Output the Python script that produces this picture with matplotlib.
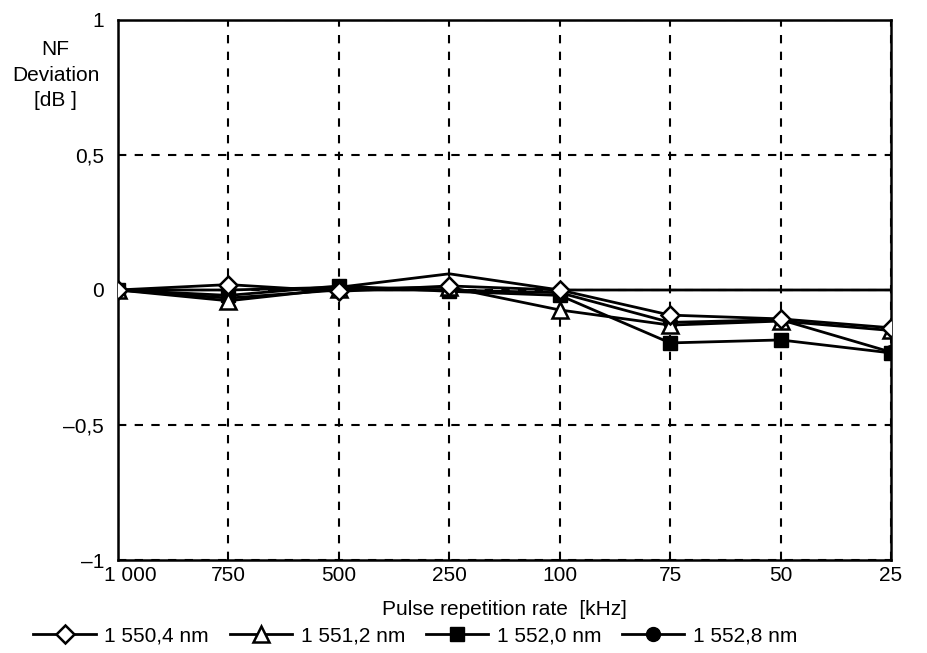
import numpy as np
import matplotlib.pyplot as plt
import matplotlib.transforms as mtransforms

plt.rcParams['font.family'] = ['Liberation Sans', 'DejaVu Sans']

rates = ["1 000", "750", "500", "250", "100", "75", "50", "25"]

nf_1550_4 = [0.0, 0.02, -0.005, 0.015, 0.0, -0.093, -0.107, -0.14]
nf_1551_2 = [0.0, -0.04, 0.005, 0.01, -0.074, -0.13, -0.115, -0.15]
nf_1552_0 = [0.0, -0.02, 0.015, -0.005, -0.02, -0.196, -0.185, -0.233]
nf_1552_8 = [0.0, -0.03, 0.0, 0.0, -0.01, -0.12, -0.11, -0.23]
nf_ref = [0.0, 0.0, 0.01, 0.06, 0.0, 0.0, 0.0, 0.0]

y_ticks = [1, 0.5, 0, -0.5, -1]
y_labels = ["1", "0,5", "0", "\u20130,5", "\u20131"]

x = np.arange(len(rates))
fs = 15

fig = plt.figure(figsize=(9.27, 6.53), dpi=100)
ax = fig.add_axes([0.1273, 0.1424, 0.8339, 0.8270])

ax.plot(x, nf_ref, color="black", lw=2.0, zorder=2)
ax.plot(x, nf_1552_8, color="black", lw=2.0, marker="o", ms=10,
        mfc="black", mec="black", label="1 552,8 nm", zorder=3)
ax.plot(x, nf_1552_0, color="black", lw=2.0, marker="s", ms=10,
        mfc="black", mec="black", label="1 552,0 nm", zorder=3)
ax.plot(x, nf_1551_2, color="black", lw=2.0, marker="^", ms=11,
        mfc="white", mec="black", mew=1.8, label="1 551,2 nm", zorder=4)
ax.plot(x, nf_1550_4, color="black", lw=2.0, marker="D", ms=9,
        mfc="white", mec="black", mew=1.8, label="1 550,4 nm", zorder=5)

ax.set_xlim(0, len(rates) - 1)
ax.set_ylim(-1, 1)
ax.set_xticks(x)
ax.set_xticklabels(rates, fontsize=fs)
ax.set_yticks(y_ticks)
ax.set_yticklabels(y_labels, fontsize=fs)
ax.tick_params(length=0, pad=10)
ax.tick_params(axis="x", pad=4)

# first label sits a little right of its tick, clear of the "-1"
first = ax.get_xticklabels()[0]
first.set_transform(first.get_transform() +
                    mtransforms.ScaledTranslation(12 / 100, 0, fig.dpi_scale_trans))

ax.grid(True, color="black", ls=(0, (4, 4)), lw=1.5)
for s in ax.spines.values():
    s.set_linewidth(1.8)
    s.set_color("black")

ax.set_xlabel("Pulse repetition rate  [kHz]", fontsize=fs, labelpad=11)
fig.text(0.060, 0.885, "NF\nDeviation\n[dB ]", ha="center", va="center",
         fontsize=fs, linespacing=1.45)

handles, labels = ax.get_legend_handles_labels()
order = [3, 2, 1, 0]
fig.legend([handles[i] for i in order], [labels[i] for i in order],
           loc="center", bbox_to_anchor=(0.448, 0.026), ncol=4, frameon=False,
           fontsize=fs, handlelength=3.0, columnspacing=1.0, handletextpad=0.4)

fig.savefig("out.png", dpi=100)
